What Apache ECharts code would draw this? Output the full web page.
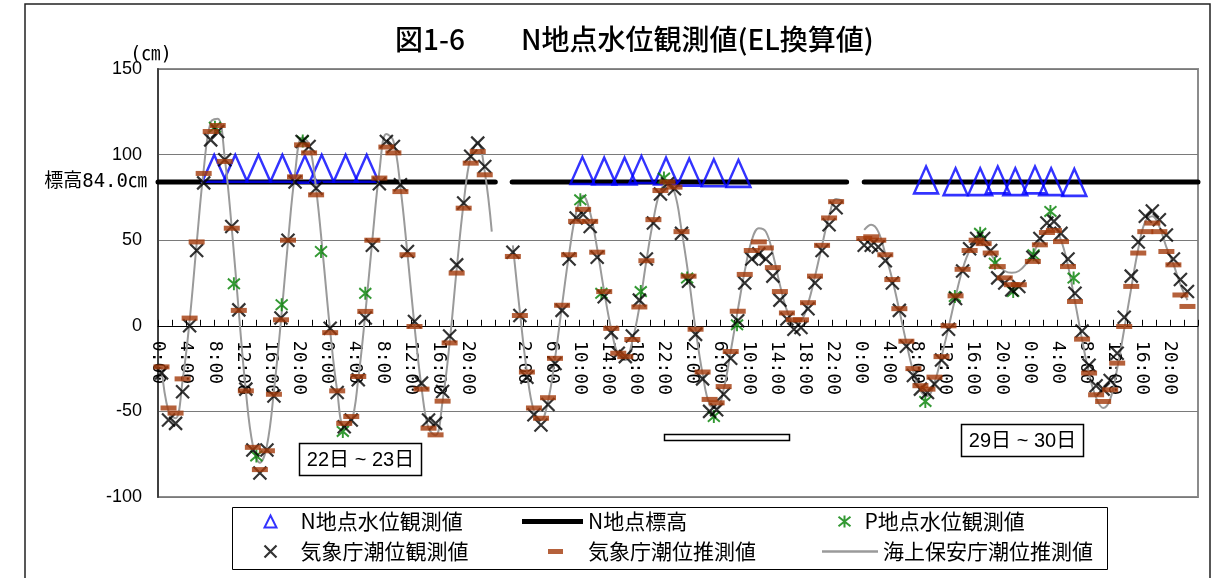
<!DOCTYPE html>
<html>
<head>
<meta charset="utf-8">
<script src="https://cdn.jsdelivr.net/npm/echarts@6/dist/echarts.min.js"></script>
<style>
  html, body { margin: 0; padding: 0; background: #fff; }
  #chart { width: 1217px; height: 578px; }
</style>
</head>
<body>
<div id="chart"></div>
<script>
// Time axis: hours counted from 0:00 on the 22nd; three 48-hour observation windows
const segmentStarts = [0, 50, 100];
const tickLabels = [
  '0:00','4:00','8:00','12:00','16:00','20:00','0:00','4:00','8:00','12:00','16:00','20:00',
  '',
  '2:00','6:00','10:00','14:00','18:00','22:00','2:00','6:00','10:00','14:00','18:00','22:00',
  '0:00','4:00','8:00','12:00','16:00','20:00','0:00','4:00','8:00','12:00','16:00','20:00',
  ''
];

// 気象庁潮位観測値 (hourly, cm)
const seg1Observed = [-27.5,-55,-57,-38.5,0,44,83.5,108.6,113.5,97,58,9.3,-37,-72.5,-86,-72.5,-41,4.5,50,84,107.6,104.7,80.4,null,-1.4,-39,-59,-55,-31.5,4.5,47,83,107.6,104.7,82.4,43.4,2.5,-33.5,-55,-57,-38.4,-6,35.6,71.7,99,106.7,93,null];
const seg2Observed = [43,6,-30,-52,-58,-46,-22,9,39,63,65,58,40,17,-4,-16,-18,-6,15,39,60,77,83,80,54,26,-5,-31,-50,-49,-40,-19,3,25,39,42,39,29,15,4,-2,-1,10,25,44,59,69,null];
const seg3Observed = [47,47,46,38,25,9,-12,-29,-37,-39,-34,-20,-2,16,32,45,51,51,44,28,25,21,23,null,40,51,60,61,54,39,19,-3,-23,-35,-37,-32,-16,5,29,49,64,67,62,53,39,27,20,null];

// 気象庁潮位推測値 (hourly, cm)
const seg1Predicted = [-24,-48,-51,-31,4.5,49,89,113.5,117,96,57,9,-38,-71,-84,-73,-40,3.5,50,87,105.7,101,76.5,null,-4,-38,-57,-53,-29.6,8.4,50,86.3,104.4,101,78.4,41.5,-0.4,-37,-59.8,-63.7,-44,-10,30.8,68.7,95,101.8,88.2,null];
const seg2Predicted = [40.5,6,-27,-48,-54,-42,-19,12,41.5,61,68,61,43,20,-1.5,-16,-18,-8,11,38,62,79,84,81,55,29,-2,-27,-43,-45,-35.5,-15,8.5,30,44,49,45.5,34,20,7.5,3.5,3.5,13.5,29,47,63,72.5,null];
const seg3Predicted = [51,52,50,41.5,27,10,-9,-25,-35,-37,-30,-18,0,17.5,33,44,50,48,42.5,34.6,28,24,24,null,37.6,47.3,54.5,55.7,49.2,34.6,14.2,-7.8,-27.6,-40.3,-44.2,-37.4,-21.8,-0.4,23,42.5,55,60,55,43.4,35.6,18,11.3,null];

// 海上保安庁潮位推測値 (hourly, cm)
const seg1Coast = [-24,-50,-54,-32,3,48,91,119,121,98,57,8,-38,-70,-80,-70,-38,3,49,89,110,106,80,40,-3,-38,-59,-57,-31,7,50,90,112,108,81,42,0,-36,-60,-64,-44,-10,33,72,99,107,90,55];
const seg2Coast = [47,8,-27,-50,-55,-44,-19,12,42,66,76,66,45,20,-2,-17,-20,-9,11,38,62,79,83,78,56,29,-2,-28,-46,-48,-37,-15,9,32,50,57,55,42,24,9,2,3,13,29,47,64,74,73];
const seg3Coast = [56,59,55,42,27,9,-10,-27,-38,-41,-33,-18,-1,17,33,44,49,48,42,36,32,31,32,36,42,50,56,57,50,35,14,-8,-28,-42,-48,-43,-25,-2,22,45,61,64,58,46,36,24,15,null];

// N地点水位観測値 (hour, cm)
const nPointTimes  = [8.0,11.0,14.3,17.7,20.9,23.3,26.7,29.7, 60.4,63.5,66.4,68.8,72.3,75.6,79.1,82.6, 109.3,113.5,117.0,119.5,122.0,124.8,127.1,130.4];
const nPointLevels = [92,92,92,92,91.5,92,92,92, 90.7,90.4,90.4,91.3,90.4,89.8,89.4,89.0, 85.2,84.2,84.2,85.2,84.2,85.2,84.2,83.8];

// P地点水位観測値 (hour, cm)
const pPointTimes  = [8.1,10.8,14.0,17.6,20.6,23.2,26.3,29.5, 60.1,63.1,68.7,72.0,75.3,79.1,82.4, 109.2,113.4,117.0,119.1,121.7,124.6,127.0,130.3];
const pPointLevels = [116,24.5,-76,12.3,108,43.4,-61.7,19, 73.6,19,20,86.3,27.9,-53,0.6, -44.2,17.1,54,36.6,20,41.5,66.8,27.9];

// N地点標高 (cm) and the periods it is drawn over
const elevation = 84.0;
const elevationSpans = [[0, 48], [50.4, 98], [100.5, 148]];

const Y_MIN = -100, Y_MAX = 150;
const CJK = '"Noto Sans CJK JP", sans-serif';
const MONO = '"DejaVu Sans Mono", "Noto Sans CJK JP", monospace';
const SLOT_CENTER = 0.5; // hourly readings sit in the middle of their hour slot

function hourly(values, start) {
  return values.map((v, i) => [start + i + SLOT_CENTER, v]);
}
function points(segments) {
  return segments.flatMap((vals, k) => hourly(vals, segmentStarts[k])).filter(p => p[1] !== null);
}
function lineWithGaps(segments) {
  const out = [];
  segments.forEach((vals, k) => {
    if (k > 0) out.push([segmentStarts[k] - 1, null]);
    out.push(...hourly(vals, segmentStarts[k]));
  });
  return out;
}

const observed = points([seg1Observed, seg2Observed, seg3Observed]);
const predicted = points([seg1Predicted, seg2Predicted, seg3Predicted]);
const coast = lineWithGaps([seg1Coast, seg2Coast, seg3Coast]);
const nPoint = nPointTimes.map((t, i) => [t, nPointLevels[i]]);
const pPoint = pPointTimes.map((t, i) => [t, pPointLevels[i]]);
const elevationLine = elevationSpans.flatMap(([a, b]) => [[a, elevation], [b, elevation], [b + 0.5, null]]);

const TRI = 'path://M5,0L10,10L0,10Z';
const CROSS = 'path://M0,0L10,10M10,0L0,10';
const STAR = 'path://M5,0L5,10M0,1L10,9M10,1L0,9';
const BROWN = '#A23A0A';

// plot box
const PLOT = { left: 158, top: 69, width: 1040, height: 428 };
// the time axis is drawn along the zero level: a second grid whose bottom edge is y = 0
const zeroGridHeight = PLOT.height * Y_MAX / (Y_MAX - Y_MIN);

const legendText = { fontSize: 21, fontFamily: CJK, color: '#000' };
function legendAt(left, top, item, w, h, padLeft) {
  return {
    left, top, padding: 0, itemWidth: w, itemHeight: h, selectedMode: false,
    textStyle: Object.assign({}, legendText, { padding: [0, 0, 0, padLeft] }),
    data: [item]
  };
}

const chart = echarts.init(document.getElementById('chart'), null, { renderer: 'canvas' });
chart.setOption({
  animation: false,
  backgroundColor: '#fff',
  title: {
    text: '図1-6　　N地点水位観測値(EL換算値)',
    left: 390, top: 20,
    textStyle: { fontSize: 28, fontWeight: 500, fontFamily: CJK, color: '#000' }
  },
  grid: [
    Object.assign({ show: true, borderColor: '#8c8c8c', borderWidth: 2 }, PLOT),
    { left: PLOT.left, top: PLOT.top, width: PLOT.width, height: zeroGridHeight, show: false }
  ],
  xAxis: [
    {
      type: 'value', gridIndex: 0, min: 0, max: 148, interval: 2,
      axisLine: { show: false }, axisTick: { show: false }, axisLabel: { show: false }, splitLine: { show: false }
    },
    {
      type: 'value', gridIndex: 1, min: 0, max: 148, interval: 2, position: 'bottom',
      axisLine: { show: true, onZero: false, lineStyle: { color: '#000', width: 1 } },
      axisTick: { show: true, inside: true, length: 6, lineStyle: { color: '#000', width: 1 } },
      splitLine: { show: false },
      axisLabel: {
        rotate: -90, margin: 15, fontSize: 18, fontFamily: MONO, color: '#000',
        formatter: v => (v % 4 === 0 ? (tickLabels[v / 4] || '') : '')
      }
    }
  ],
  yAxis: [
    {
      type: 'value', gridIndex: 0, min: Y_MIN, max: Y_MAX, interval: 50,
      axisLine: { show: true, onZero: false, lineStyle: { color: '#404040', width: 2 } },
      axisTick: { show: false },
      splitLine: { show: true, lineStyle: { color: '#7a7a7a', width: 1 } },
      axisLabel: { fontSize: 18, fontFamily: '"Liberation Sans", Arial, sans-serif', color: '#000', margin: 16 }
    },
    { type: 'value', gridIndex: 1, min: 0, max: Y_MAX, show: false }
  ],
  legend: [
    legendAt(262, 511, { name: 'N地点水位観測値', icon: TRI, itemStyle: { color: 'none', borderColor: '#0000ff', borderWidth: 2 } }, 12, 14, 19),
    legendAt(522, 511, { name: 'N地点標高', icon: 'rect', itemStyle: { color: '#000', borderWidth: 0 } }, 61, 5, 0),
    legendAt(836, 511, { name: 'P地点水位観測値', icon: STAR, itemStyle: { color: 'none', borderColor: '#008000', borderWidth: 2 } }, 12, 13, 9),
    legendAt(262, 541, { name: '気象庁潮位観測値', icon: CROSS, itemStyle: { color: 'none', borderColor: '#000', borderWidth: 2.2 } }, 12, 12, 19),
    legendAt(548, 541, { name: '気象庁潮位推測値', icon: 'rect', itemStyle: { color: BROWN, borderWidth: 0 } }, 15, 5, 20),
    legendAt(822, 541, { name: '海上保安庁潮位推測値', icon: 'rect', itemStyle: { color: '#9a9a9a', borderWidth: 0 } }, 56, 2.5, 0)
  ],
  series: [
    {
      name: 'N地点標高', type: 'line', data: elevationLine, symbol: 'none', z: 2,
      lineStyle: { color: '#000', width: 5, cap: 'round' }, itemStyle: { color: '#000' }
    },
    {
      name: 'N地点水位観測値', type: 'scatter', data: nPoint, symbol: TRI, symbolSize: [24, 27], z: 3,
      itemStyle: { color: 'none', borderColor: '#0000ff', borderWidth: 2.5 }
    },
    {
      name: '海上保安庁潮位推測値', type: 'line', data: coast, symbol: 'none', smooth: 0.4, z: 4,
      lineStyle: { color: '#9a9a9a', width: 2 }, itemStyle: { color: '#9a9a9a' }
    },
    {
      name: 'P地点水位観測値', type: 'scatter', data: pPoint, symbol: STAR, symbolSize: [12, 13], z: 5,
      itemStyle: { color: 'none', borderColor: '#008000', borderWidth: 2 }
    },
    {
      name: '気象庁潮位観測値', type: 'scatter', data: observed, symbol: CROSS, symbolSize: 13, z: 6,
      itemStyle: { color: 'none', borderColor: '#000', borderWidth: 2.2 }
    },
    {
      name: '気象庁潮位推測値', type: 'scatter', data: predicted, symbol: 'rect', symbolSize: [16, 5], z: 7,
      itemStyle: { color: BROWN }
    }
  ],
  graphic: [
    { type: 'rect', silent: true, z: -10, shape: { x: 25, y: 4, width: 1185, height: 600 }, style: { fill: 'none', stroke: '#222', lineWidth: 1.5 } },
    { type: 'text', silent: true, x: 151, y: 55, style: { text: '(㎝)', font: '19px ' + MONO, fill: '#000', align: 'center', verticalAlign: 'middle' } },
    { type: 'text', silent: true, x: 147, y: 182, style: { text: '標高84.0㎝', font: '19px ' + MONO, fill: '#000', align: 'right', verticalAlign: 'middle' } },
    { type: 'rect', silent: true, z: 10, shape: { x: 299.5, y: 443.5, width: 122, height: 32 }, style: { fill: '#fff', stroke: '#000', lineWidth: 1.5 } },
    { type: 'text', silent: true, z: 11, x: 360.5, y: 460, style: { text: '22日 ~ 23日', font: '20px "Liberation Sans", ' + CJK, fill: '#000', align: 'center', verticalAlign: 'middle' } },
    { type: 'rect', silent: true, z: 10, shape: { x: 961.5, y: 424.5, width: 122, height: 32 }, style: { fill: '#fff', stroke: '#000', lineWidth: 1.5 } },
    { type: 'text', silent: true, z: 11, x: 1022.5, y: 441, style: { text: '29日 ~ 30日', font: '20px "Liberation Sans", ' + CJK, fill: '#000', align: 'center', verticalAlign: 'middle' } },
    { type: 'rect', silent: true, z: 10, shape: { x: 664.5, y: 434.5, width: 125, height: 6 }, style: { fill: '#fff', stroke: '#000', lineWidth: 1.5 } },
    { type: 'rect', silent: true, z: -5, shape: { x: 232.5, y: 507.5, width: 875, height: 62 }, style: { fill: '#fff', stroke: '#000', lineWidth: 1 } }
  ]
});
</script>
</body>
</html>
